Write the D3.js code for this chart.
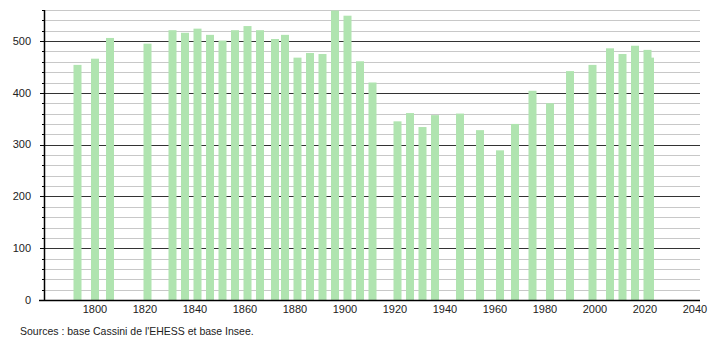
<!DOCTYPE html>
<html>
<head>
<meta charset="utf-8">
<script src="https://cdn.jsdelivr.net/npm/d3@7"></script>
<style>
  body { margin: 0; background: #fff; }
  svg { display: block; font-family: "Liberation Sans", Arial, sans-serif; }
</style>
</head>
<body>
<svg id="chart" width="710" height="340"></svg>
<script>
// census years and population
const years = [1793, 1800, 1806, 1821, 1831, 1836, 1841, 1846, 1851, 1856,
  1861, 1866, 1872, 1876, 1881, 1886, 1891, 1896, 1901, 1906, 1911,
  1921, 1926, 1931, 1936, 1946, 1954, 1962, 1968, 1975, 1982, 1990,
  1999, 2006, 2011, 2016, 2021, 2022];
const population = [454, 466, 506, 495, 521, 516, 524, 512, 501, 521,
  529, 521, 504, 512, 468, 477, 475, 559, 549, 461, 420,
  345, 361, 334, 357, 360, 328, 289, 340, 404, 380, 442,
  454, 486, 475, 491, 483, 468];
const xTicks = [1800, 1820, 1840, 1860, 1880, 1900, 1920, 1940, 1960, 1980, 2000, 2020, 2040];
const yMajor = [0, 100, 200, 300, 400, 500];
const sourceText = "Sources : base Cassini de l'EHESS et base Insee.";

(function () {
  const svg = d3.select("#chart");
  const left = 44, right = 700, plotTop = 10, bottom = 300;

  const x = d3.scaleLinear().domain([1779.6, 2042]).range([left, right]);
  const y = d3.scaleLinear().domain([0, 560]).range([bottom, plotTop]);
  const py = (d) => Math.round(y(d)) + 0.5;

  // minor grid every 20
  const minor = d3.range(20, 561, 20).filter(v => v % 100 !== 0);
  svg.append("g").selectAll("line").data(minor).join("line")
    .attr("x1", left).attr("x2", right)
    .attr("y1", py).attr("y2", py)
    .attr("stroke", "#c8c8c8").attr("stroke-width", 1);

  svg.append("g").selectAll("line").data(yMajor.filter(v => v > 0)).join("line")
    .attr("x1", left).attr("x2", right)
    .attr("y1", py).attr("y2", py)
    .attr("stroke", "#333").attr("stroke-width", 1);

  // bars
  const barW = 8;
  svg.append("g").selectAll("rect").data(years).join("rect")
    .attr("x", (d) => x(d) - barW / 2)
    .attr("width", barW)
    .attr("y", (d, i) => y(population[i]))
    .attr("height", (d, i) => y(0) - y(population[i]))
    .attr("fill", "#b0e4b0");

  // y axis ticks
  svg.append("g").selectAll("line").data(minor).join("line")
    .attr("x1", left - 2).attr("x2", left)
    .attr("y1", py).attr("y2", py)
    .attr("stroke", "#000");
  svg.append("g").selectAll("line").data(yMajor).join("line")
    .attr("x1", left - 4).attr("x2", left)
    .attr("y1", py).attr("y2", py)
    .attr("stroke", "#000");

  svg.append("line")
    .attr("x1", left + 0.5).attr("x2", left + 0.5)
    .attr("y1", plotTop).attr("y2", bottom)
    .attr("stroke", "#000").attr("stroke-width", 1.5);
  svg.append("line")
    .attr("x1", left - 5).attr("x2", right)
    .attr("y1", bottom + 0.5).attr("y2", bottom + 0.5)
    .attr("stroke", "#000").attr("stroke-width", 1.5);

  svg.append("g").selectAll("text").data(yMajor).join("text")
    .attr("x", 31).attr("y", d => y(d))
    .attr("dy", "0.35em")
    .attr("text-anchor", "end")
    .attr("font-size", 11)
    .attr("fill", "#222")
    .text(d => d);

  svg.append("g").selectAll("text").data(xTicks).join("text")
    .attr("x", d => x(d)).attr("y", 313)
    .attr("text-anchor", "middle")
    .attr("font-size", 11)
    .attr("fill", "#222")
    .text(d => d);

  svg.append("text")
    .attr("x", 20).attr("y", 335)
    .attr("font-size", 10.5)
    .attr("fill", "#222")
    .text(sourceText);
})();
</script>
</body>
</html>
